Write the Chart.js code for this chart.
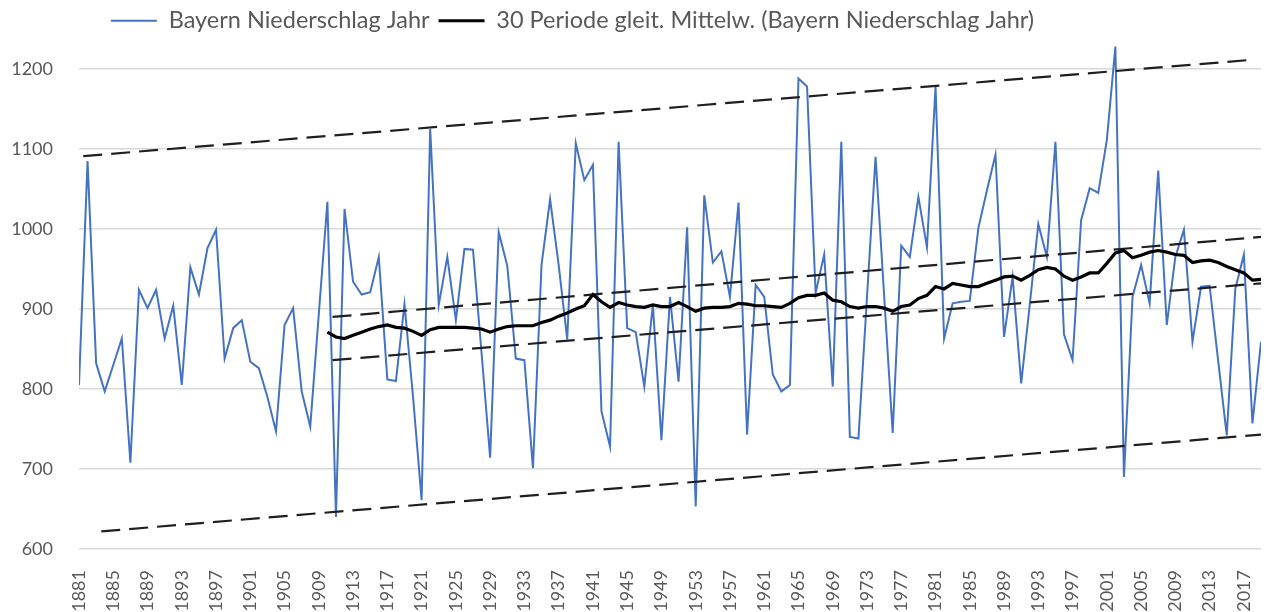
<!DOCTYPE html>
<html lang="de">
<head>
<meta charset="UTF-8">
<title>Bayern Niederschlag Jahr</title>
<script src="https://cdn.jsdelivr.net/npm/chart.js@4"></script>
<style>
  html, body { margin: 0; padding: 0; background: #fff; }
  #wrap { width: 1266px; height: 612px; }
</style>
</head>
<body>
<div id="wrap"><canvas id="myChart"></canvas></div>
<script>
// Jahresniederschlag Bayern in mm, 1881-2019
const firstYear = 1881;
const rain = [
  805, 1085, 832, 797, 830, 863, 708, 924, 901, 924,
  863, 904, 805, 952, 918, 976, 999, 838, 876, 886,
  834, 826, 790, 747, 880, 901, 797, 753, 894, 1034,
  640, 1025, 934, 918, 921, 965, 812, 810, 906, 790,
  661, 1125, 905, 965, 886, 975, 974, 845, 714, 996,
  954, 838, 836, 701, 955, 1037, 955, 862, 1107, 1061,
  1080, 772, 728, 1109, 876, 871, 803, 905, 736, 915,
  809, 1002, 653, 1042, 958, 972, 915, 1033, 743, 930,
  915, 818, 797, 805, 1188, 1178, 920, 968, 803, 1109,
  740, 738, 915, 1090, 917, 745, 979, 965, 1040, 977,
  1178, 863, 907, 909, 910, 1001, 1048, 1093, 865, 940,
  807, 905, 1006, 965, 1109, 868, 836, 1011, 1051, 1045,
  1111, 1228, 690, 915, 955, 907, 1073, 880, 965, 999,
  859, 928, 929, 835, 742, 925, 968, 757, 859
];

// 30 Perioden gleitender Mittelwert, erster Wert 1910
const avgFirstYear = 1910;
const avg30 = [
  871, 865, 863, 867, 871, 875, 878, 880, 877, 876,
  872, 867, 874, 877, 877, 877, 877, 876, 875, 871,
  875, 878, 879, 879, 879, 883, 886, 891, 895, 900,
  904, 918, 909, 902, 908, 905, 903, 902, 905, 903,
  903, 908, 903, 897, 901, 902, 902, 903, 907, 906,
  904, 904, 903, 902, 907, 914, 917, 917, 920, 911,
  909, 903, 901, 903, 903, 901, 897, 903, 905, 913,
  917, 928, 925, 932, 930, 928, 928, 932, 936, 940,
  941, 936, 942, 949, 952, 950, 941, 936, 940, 945,
  945, 957, 970, 973, 964, 967, 971, 973, 971, 968,
  967, 958, 960, 961, 958, 953, 949, 945, 936, 937
];

// gestrichelte Kanallinien: Jahr von/bis, Wert von/bis
const outerTopYears = [1881.5, 2017.5];
const outerTopValues = [1091, 1211];
const outerBottomYears = [1883.6, 2019];
const outerBottomValues = [622, 743];
const innerTopYears = [1910.6, 2019];
const innerTopValues = [890, 990];
const innerBottomYears = [1910.6, 2019];
const innerBottomValues = [836, 932];

const xTickYears = [1881, 1885, 1889, 1893, 1897, 1901, 1905, 1909, 1913, 1917,
  1921, 1925, 1929, 1933, 1937, 1941, 1945, 1949, 1953, 1957, 1961, 1965, 1969,
  1973, 1977, 1981, 1985, 1989, 1993, 1997, 2001, 2005, 2009, 2013, 2017];
const yTickValues = [600, 700, 800, 900, 1000, 1100, 1200];

const FONT = 'Lato, "Open Sans", sans-serif';
const GREY = '#595959';
const LEGEND_OFFSET = -58; // Legende sitzt im Original links von der Mitte

function toPoints(start, values) {
  return values.map((v, i) => ({ x: start + i, y: v }));
}
function linePoints(xs, ys) {
  return xs.map((x, i) => ({ x: x, y: ys[i] }));
}
function dashed(xs, ys) {
  return {
    label: 'Kanal',
    data: linePoints(xs, ys),
    borderColor: '#1f1f1f',
    borderWidth: 2.2,
    borderDash: [19, 9],
    pointRadius: 0,
    order: 2
  };
}

const legendShift = {
  id: 'legendShift',
  afterLayout(chart) {
    chart.legend.left += LEGEND_OFFSET;
    chart.legend.right += LEGEND_OFFSET;
  }
};

new Chart(document.getElementById('myChart'), {
  type: 'line',
  plugins: [legendShift],
  data: {
    datasets: [
      {
        label: 'Bayern Niederschlag Jahr',
        data: toPoints(firstYear, rain),
        borderColor: '#4472c4',
        borderWidth: 2,
        pointRadius: 0,
        tension: 0,
        order: 3
      },
      {
        label: '30 Periode gleit. Mittelw. (Bayern Niederschlag Jahr)',
        data: toPoints(avgFirstYear, avg30),
        borderColor: '#000000',
        borderWidth: 3.2,
        pointRadius: 0,
        tension: 0,
        order: 1
      },
      dashed(outerTopYears, outerTopValues),
      dashed(outerBottomYears, outerBottomValues),
      dashed(innerTopYears, innerTopValues),
      dashed(innerBottomYears, innerBottomValues)
    ]
  },
  options: {
    responsive: true,
    maintainAspectRatio: false,
    animation: false,
    layout: { padding: { top: 0, right: 5, bottom: 0, left: 0 } },
    plugins: {
      tooltip: { enabled: false },
      legend: {
        position: 'top',
        labels: {
          font: { family: FONT, size: 23.5 },
          color: GREY,
          usePointStyle: true,
          pointStyle: 'line',
          pointStyleWidth: 46,
          padding: 9,
          sort: (a, b) => a.datasetIndex - b.datasetIndex,
          filter: item => item.datasetIndex < 2
        }
      }
    },
    scales: {
      x: {
        type: 'linear',
        min: 1881,
        max: 2019,
        grid: { display: false },
        border: { display: false },
        afterBuildTicks: s => { s.ticks = xTickYears.map(v => ({ value: v })); },
        afterFit: s => {
          s.height = 63;
          s.paddingLeft = 0;
          s.paddingRight = 0;
        },
        ticks: {
          autoSkip: false,
          minRotation: 90,
          maxRotation: 90,
          padding: 13,
          color: GREY,
          font: { family: FONT, size: 18 },
          callback: v => String(v)
        }
      },
      y: {
        min: 600,
        max: 1233,
        grid: { color: '#d9d9d9', lineWidth: 1.5, drawTicks: false },
        border: { display: false },
        afterBuildTicks: s => { s.ticks = yTickValues.map(v => ({ value: v })); },
        afterFit: s => { s.width = 79; },
        ticks: {
          padding: 26,
          color: GREY,
          font: { family: FONT, size: 18 },
          callback: v => String(v)
        }
      }
    }
  }
});
</script>
</body>
</html>
